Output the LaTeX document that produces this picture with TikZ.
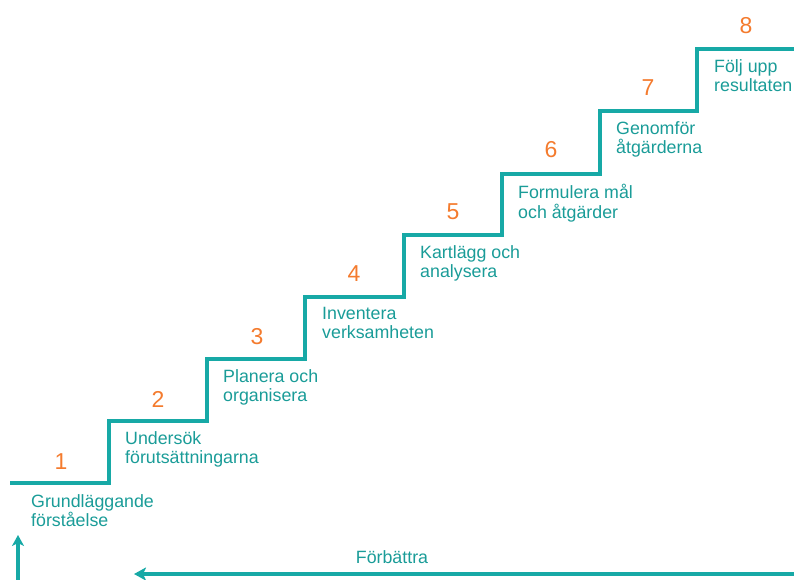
\documentclass[tikz,border=0pt]{standalone}
\usepackage{fontspec}
\setmainfont{Liberation Sans}
\usetikzlibrary{arrows.meta}
\definecolor{stairteal}{HTML}{17A9A6}
\definecolor{labelteal}{HTML}{1A9C98}
\definecolor{steporange}{HTML}{F47B2E}
\begin{document}
\begin{tikzpicture}[x=1pt,y=-1pt,
  stairline/.style={draw=stairteal,line width=4pt,line join=miter},
  stepnum/.style={text=steporange,font=\fontsize{23}{23}\selectfont,inner sep=0pt,anchor=center},
  steplabel/.style={text=labelteal,font=\fontsize{17.8}{19.5}\selectfont,align=left,inner sep=0pt,anchor=north west},
  flowarrow/.style={draw=stairteal,line width=4pt,-{Stealth[length=12pt,width=13pt,inset=3pt]}}]
\useasboundingbox (0,0) rectangle (794,579);
% staircase outline
\draw[stairline] (10,483) -- (109,483) -- (109,421) -- (207,421) -- (207,359)
  -- (305,359) -- (305,297) -- (404,297) -- (404,235) -- (502,235) -- (502,174)
  -- (600,174) -- (600,111) -- (697,111) -- (697,49) -- (796,49);
% step numbers
\node[stepnum] (n1) at (61,462) {1};
\node[stepnum] (n2) at (158,399) {2};
\node[stepnum] (n3) at (257,337) {3};
\node[stepnum] (n4) at (354,274) {4};
\node[stepnum] (n5) at (453,212) {5};
\node[stepnum] (n6) at (551,150) {6};
\node[stepnum] (n7) at (648,88) {7};
\node[stepnum] (n8) at (746,26) {8};
% step labels
\node[steplabel] (l1) at (31,494) {Grundläggande\\förståelse};
\node[steplabel] (l2) at (125,431) {Undersök\\förutsättningarna};
\node[steplabel] (l3) at (223,369) {Planera och\\organisera};
\node[steplabel] (l4) at (322,307) {Inventera\\verksamheten};
\node[steplabel] (l5) at (420,245) {Kartlägg och\\analysera};
\node[steplabel] (l6) at (518,184) {Formulera mål\\och åtgärder};
\node[steplabel] (l7) at (616,121) {Genomför\\åtgärderna};
\node[steplabel] (l8) at (714,59) {Följ upp\\resultaten};
% improvement loop arrows
\coordinate (loopstart) at (796,574);
\coordinate (loopend) at (134,574);
\draw[flowarrow] (loopstart) -- (loopend);
\node[text=labelteal,font=\fontsize{17.8}{19.5}\selectfont,inner sep=0pt] (fb) at (392,557) {Förbättra};
\coordinate (upstart) at (18,581);
\coordinate (upend) at (18,535);
\draw[flowarrow,-{Stealth[length=11pt,width=12pt,inset=3pt]}] (upstart) -- (upend);
\end{tikzpicture}
\end{document}
